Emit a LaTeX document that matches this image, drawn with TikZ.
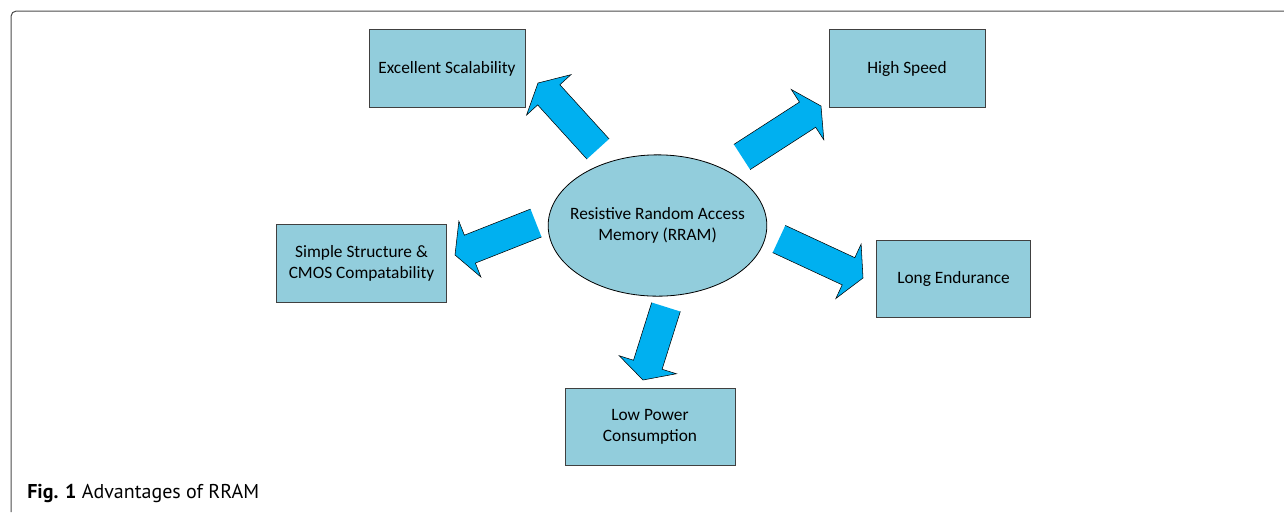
\documentclass[tikz,border=0pt]{standalone}
\usepackage{fontspec}
\setmainfont{Carlito}
\newfontfamily\capfont{PT Sans}
\usetikzlibrary{calc,shapes.geometric}
\definecolor{boxblue}{HTML}{92CDDC}
\definecolor{arrowblue}{HTML}{00B0F0}
\tikzset{
  advbox/.style={draw=black!75, fill=boxblue, line width=0.6pt, align=center,
    minimum height=58pt, inner sep=0pt, font=\fontsize{13}{16}\selectfont},
  memnode/.style={ellipse, draw=black, fill=boxblue, line width=0.6pt, align=center,
    minimum width=164pt, minimum height=106pt, inner xsep=-8pt, inner ysep=0pt,
    font=\fontsize{13}{16}\selectfont},
}
\newcommand{\blockarrow}[3]{%
  \coordinate (#1-t) at #2;
  \coordinate (#1-h) at #3;
  \coordinate (#1-b) at ($(#1-h)!12pt!(#1-t)$);
  \fill[arrowblue] ($(#1-t)!11.25pt!90:(#1-h)$) -- ($(#1-b)!11.25pt!90:(#1-h)$)
    -- ($(#1-b)!22.5pt!90:(#1-h)$) -- (#1-h) -- ($(#1-b)!22.5pt!-90:(#1-h)$)
    -- ($(#1-b)!11.25pt!-90:(#1-h)$) -- ($(#1-t)!11.25pt!-90:(#1-h)$) -- cycle;
  \draw[black, line width=0.4pt, line join=miter] ($(#1-t)!11.25pt!90:(#1-h)$) -- ($(#1-b)!11.25pt!90:(#1-h)$)
    -- ($(#1-b)!22.5pt!90:(#1-h)$) -- (#1-h) -- ($(#1-b)!22.5pt!-90:(#1-h)$)
    -- ($(#1-b)!11.25pt!-90:(#1-h)$) -- ($(#1-t)!11.25pt!-90:(#1-h)$);
}
\begin{document}
\begin{tikzpicture}[x=0.75pt,y=-0.75pt]
  \useasboundingbox (0,0) rectangle (1284,512);
  \draw[black!70, line width=0.75pt, rounded corners=4pt] (11,512) -- (11,11) -- (1284,11);
  \node[memnode] (mem) at (657.5,225.5) {Resistive Random Access\\Memory (RRAM)};
  \node[advbox, minimum width=117pt] (scal) at (447,68.5) {Excellent Scalability};
  \node[advbox, minimum width=117pt] (speed) at (907,68.5) {High Speed};
  \node[advbox, minimum width=128pt] (simple) at (361.5,263.5) {Simple Structure \&\\CMOS Compatability};
  \node[advbox, minimum width=116pt] (endur) at (953.5,279) {Long Endurance};
  \node[advbox, minimum width=127.5pt] (power) at (650,427) {Low Power\\Consumption};
  \blockarrow{toscal}{(598,149)}{(538,83)}
  \blockarrow{tospeed}{(742,157)}{(821,106)}
  \blockarrow{tosimple}{(536,223)}{(455,255)}
  \blockarrow{toendur}{(779,239)}{(863,278)}
  \blockarrow{topower}{(666,307)}{(643,380)}
  \node[anchor=base west, inner sep=0pt, font=\capfont\fontsize{15}{17}\selectfont] (cap) at (27,498)
    {\textbf{Fig. 1} Advantages of RRAM};
\end{tikzpicture}
\end{document}
